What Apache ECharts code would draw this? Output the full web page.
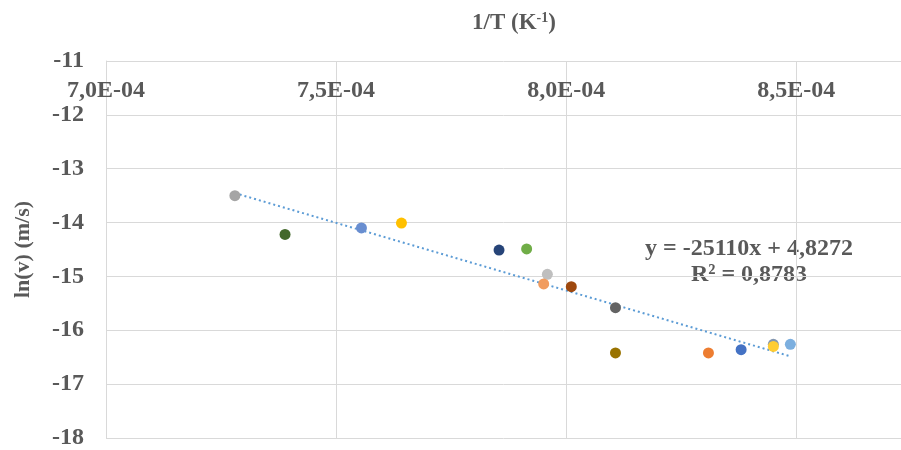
<!DOCTYPE html>
<html>
<head>
<meta charset="utf-8">
<script src="https://cdn.jsdelivr.net/npm/echarts@6/dist/echarts.min.js"></script>
<style>html,body{margin:0;padding:0;background:#fff}#c{width:901px;height:450px}</style>
</head>
<body>
<div id="c"></div>
<script>
// inverse temperature (1/K)
const invT = [7.28e-4, 7.389e-4, 7.555e-4, 7.642e-4, 7.854e-4, 7.914e-4, 7.959e-4, 7.951e-4, 8.011e-4, 8.107e-4, 8.107e-4, 8.309e-4, 8.380e-4, 8.450e-4, 8.450e-4, 8.487e-4];
// ln(v)
const lnV = [-13.50, -14.22, -14.10, -14.01, -14.51, -14.49, -14.96, -15.14, -15.19, -15.58, -16.42, -16.42, -16.36, -16.26, -16.30, -16.26];
const pointColors = ['#A5A5A5', '#43682B', '#698ED0', '#FFC000', '#264478', '#70AD47', '#BFBFBF', '#F19C5F', '#9E480E', '#636363', '#997300', '#ED7D31', '#4472C4', '#8497B0', '#FFCD33', '#7CAFDF'];
// trendline as printed on chart
const slope = -25110;
const intercept = 4.8272;
const eqText = ['y = -25110x + 4,8272', 'R² = 0,8783'];
const xTicks = [7.0e-4, 7.5e-4, 8.0e-4, 8.5e-4];

const xMin = Math.min(...invT), xMax = Math.max(...invT);
const trend = [[xMin, slope * xMin + intercept], [xMax, slope * xMax + intercept]];

const fmtX = v => {
  const e = v.toExponential(1);
  const [m, p] = e.split('e');
  const exp = parseInt(p, 10);
  const sign = exp < 0 ? '-' : '+';
  return m.replace('.', ',') + 'E' + sign + String(Math.abs(exp)).padStart(2, '0');
};

const font = '"Liberation Serif", "Times New Roman", serif';
const chart = echarts.init(document.getElementById('c'), null, {renderer: 'canvas'});
const scatterSeries = invT.map((x, i) => ({
  type: 'scatter',
  data: [[x, lnV[i]]],
  symbolSize: 11,
  itemStyle: {color: pointColors[i], opacity: 1},
  z: 3
}));
chart.setOption({
  animation: false,
  grid: {left: 106, right: -1, top: 61, bottom: 10},
  title: {
    text: '1/T (K{sup|-1})',
    left: 509, top: 6, textAlign: 'center',
    textStyle: {fontFamily: font, fontSize: 23, fontWeight: 'bold', color: '#595959',
      rich: {sup: {fontFamily: font, fontSize: 14, fontWeight: 'bold', color: '#595959', verticalAlign: 'top', padding: [0, 0, 10, 0]}}}
  },
  xAxis: {
    type: 'value', position: 'top',
    min: 7.0e-4, max: 8.7274e-4, interval: 0.5e-4,
    axisLine: {show: false}, axisTick: {show: false},
    axisLabel: {
      inside: true, margin: 18, showMaxLabel: false,
      fontFamily: font, fontSize: 24, fontWeight: 'bold', color: '#595959',
      formatter: v => xTicks.some(t => Math.abs(t - v) < 1e-9) ? fmtX(v) : ''
    },
    splitLine: {show: true, lineStyle: {color: '#D9D9D9', width: 1}}
  },
  yAxis: {
    type: 'value', min: -18, max: -11, interval: 1,
    name: 'ln(v) (m/s)', nameLocation: 'middle', nameGap: 72, nameRotate: 90,
    nameTextStyle: {fontFamily: font, fontSize: 22, fontWeight: 'bold', color: '#595959'},
    axisLine: {show: true, lineStyle: {color: '#D9D9D9'}}, axisTick: {show: false},
    axisLabel: {margin: 22, fontFamily: font, fontSize: 24, fontWeight: 'bold', color: '#595959'},
    splitLine: {show: true, lineStyle: {color: '#D9D9D9', width: 1}}
  },
  series: [
    {
      type: 'line', data: trend, symbol: 'none', z: 2,
      lineStyle: {color: '#5B9BD5', width: 2, type: [2, 3]}
    },
    ...scatterSeries
  ],
  graphic: [{
    type: 'text',
    position: [749, 236],
    style: {
      text: eqText.join('\n'), align: 'center',
      font: 'bold 24px ' + font, fill: '#595959', lineHeight: 26
    }
  }]
});
</script>
</body>
</html>
